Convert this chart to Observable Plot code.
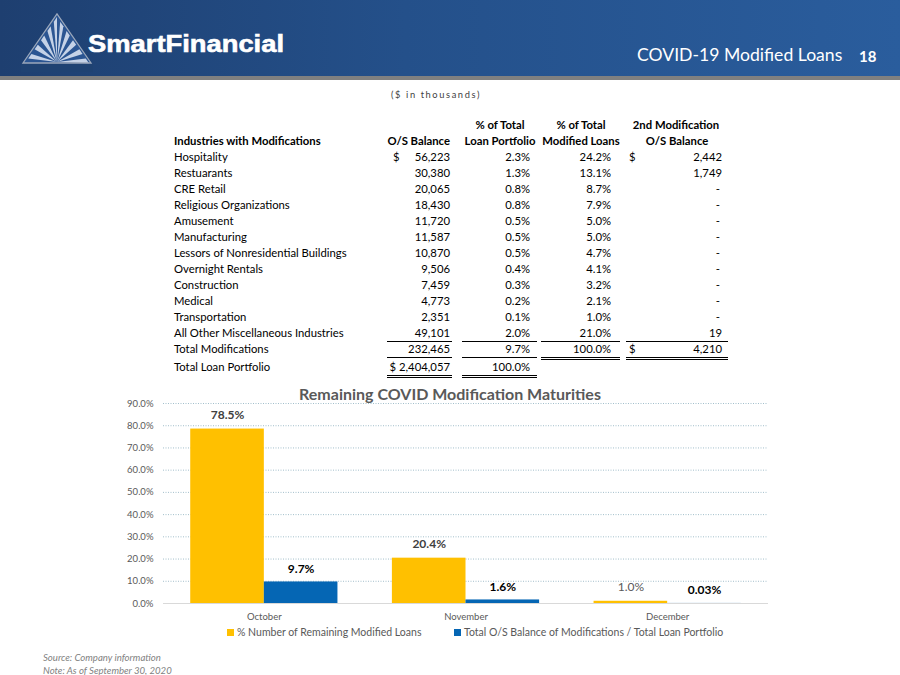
<!DOCTYPE html>
<html><head><meta charset="utf-8">
<script src="https://cdn.jsdelivr.net/npm/d3@7"></script>
<script src="https://cdn.jsdelivr.net/npm/@observablehq/plot@0.6"></script>
<style>
body{margin:0;width:900px;height:675px;position:relative;overflow:hidden;background:#fff;font-family:Lato,"Open Sans",sans-serif;}
.a{position:absolute;white-space:nowrap;line-height:14px;height:14px;color:#000;}
.b{font-weight:bold;}
.ln{position:absolute;height:0;border-top:1px solid #000;}
#header{position:absolute;left:0;top:0;width:900px;height:76px;background:linear-gradient(90deg,#1e3f70 0%,#24508a 45%,#2a5d9d 100%);}
#hbar{position:absolute;left:0;top:76px;width:900px;height:4px;background:#808080;}
#chart{position:absolute;left:0;top:395px;}
#ctitle{position:absolute;left:0;width:900px;top:385px;text-align:center;font-weight:bold;font-size:16px;color:#595959;z-index:2;line-height:18px;}
.leg{position:absolute;top:625px;font-size:10.5px;color:#595959;line-height:14px;white-space:nowrap;}
.sw{display:inline-block;width:7px;height:7px;margin-right:3px;vertical-align:0px;}
.foot{position:absolute;left:43px;font-size:9.6px;font-style:italic;color:#7f7f7f;line-height:12px;white-space:nowrap;}
</style></head><body>
<div id="header">
<svg id="logo" width="300" height="76" style="position:absolute;left:0;top:0"></svg>
<div style="position:absolute;left:637px;top:44px;font-size:17.6px;color:#fff;line-height:22px;white-space:nowrap;">COVID-19 Modified Loans</div>
<div style="position:absolute;left:859px;top:45px;font-size:15px;font-weight:bold;color:#fff;line-height:22px;">18</div>
</div>
<div id="hbar"></div>
<div id="table"></div>
<div id="ctitle">Remaining COVID Modification Maturities</div>
<div id="chart"></div>
<div id="legend"></div>
<div class="foot" style="top:652px">Source: Company information</div>
<div class="foot" style="top:665px">Note: As of September 30, 2020</div>
<script>
// ---------- table data ----------
const industries = ["Hospitality","Restuarants","CRE Retail","Religious Organizations","Amusement","Manufacturing","Lessors of Nonresidential Buildings","Overnight Rentals","Construction","Medical","Transportation","All Other Miscellaneous Industries"];
const osBalance = [56223,30380,20065,18430,11720,11587,10870,9506,7459,4773,2351,49101];
const pctPortfolio = [2.3,1.3,0.8,0.8,0.5,0.5,0.5,0.4,0.3,0.2,0.1,2.0];
const pctModified = [24.2,13.1,8.7,7.9,5.0,5.0,4.7,4.1,3.2,2.1,1.0,21.0];
const secondMod = [2442,1749,null,null,null,null,null,null,null,null,null,19];
const totalMods = {label:"Total Modifications", bal:232465, pctP:9.7, pctM:100.0, second:4210};
const totalPortfolio = {label:"Total Loan Portfolio", bal:2404057, pctP:100.0};

// ---------- chart data ----------
const months = ["October","November","December"];
const seriesNames = ["% Number of Remaining Modified Loans","Total O/S Balance of Modifications / Total Loan Portfolio"];
const pctRemaining = [78.5,20.4,1.0];
const balanceRatio = [9.7,1.6,0.03];
const pctLabels = ["78.5%","20.4%","1.0%"];
const balLabels = ["9.7%","1.6%","0.03%"];
const yTicks = [0,10,20,30,40,50,60,70,80,90];

// ---------- logo ----------
(function(){
  const s = d3.select("#logo");
  const ax=57, ay=14, lx=23, rx=91, by=63;
  s.append("polygon").attr("points",`${lx},${by} ${ax},${ay} ${rx},${by}`).attr("fill","#2b5592");
  const cx=57, cy=66;
  const pts=[];
  for(let i=0;i<=20;i++){const t=i/20;
    if(t<=0.5){const u=t/0.5; pts.push([lx+(ax-lx)*u, by+(ay-by)*u]);}
    else {const u=(t-0.5)/0.5; pts.push([ax+(rx-ax)*u, ay+(by-ay)*u]);}
  }
  for(let i=1;i<20;i+=2){
    const p1=pts[i], p2=pts[i+1];
    s.append("polygon").attr("points",`${cx},${cy-4} ${p1[0]+(cx-p1[0])*0.06},${p1[1]+(cy-p1[1])*0.06} ${p2[0]+(cx-p2[0])*0.06},${p2[1]+(cy-p2[1])*0.06}`)
     .attr("fill","#d3ddef").attr("opacity",0.92);
  }
  s.append("polygon").attr("points",`${lx},${by} ${ax},${ay} ${rx},${by}`).attr("fill","none").attr("stroke","#9aa7bb").attr("stroke-width",1.3);
  s.append("rect").attr("x",lx-2).attr("y",by+1).attr("width",rx-lx+4).attr("height",8).attr("fill","#1f4272");
  s.append("text").attr("x",88).attr("y",52).attr("fill","#fff").attr("font-family","Liberation Sans, Arial, sans-serif").attr("font-weight","bold").attr("font-size",24)
   .attr("stroke","#fff").attr("stroke-width",0.6)
   .attr("textLength",196).attr("lengthAdjust","spacingAndGlyphs").text("SmartFinancial");
})();

// ---------- table ----------
(function(){
  const T = document.getElementById("table");
  const fs = "11.3px";
  function cell(text,x,y,align,bold,extra){
    const d=document.createElement("div");
    d.className="a"+(bold?" b":"");
    d.style.fontSize=fs;
    d.style.top=(y-7)+"px";
    if(align==="left") d.style.left=x+"px";
    else if(align==="right") d.style.right=(900-x)+"px";
    else {d.style.left=(x-100)+"px"; d.style.width="200px"; d.style.textAlign="center";}
    if(extra) Object.assign(d.style,extra);
    d.textContent=text; T.appendChild(d);
  }
  function line(x1,x2,y){const d=document.createElement("div");d.className="ln";d.style.left=x1+"px";d.style.width=(x2-x1)+"px";d.style.top=y+"px";T.appendChild(d);}
  const fmt=d3.format(","), pf=d=>d.toFixed(1)+"%";
  cell("($ in thousands)",436,95,"center",false,{fontSize:"9.3px",letterSpacing:"1.6px",color:"#404040",fontWeight:"normal"});
  cell("% of Total",500,125,"center",true);
  cell("% of Total",581,125,"center",true);
  cell("2nd Modification",676,125,"center",true);
  cell("Industries with Modifications",174,141,"left",true);
  cell("O/S Balance",450,141,"right",true);
  cell("Loan Portfolio",500,141,"center",true);
  cell("Modified Loans",581,141,"center",true);
  cell("O/S Balance",677,141,"center",true);
  industries.forEach((name,i)=>{
    const y=157+16*i;
    cell(name,174,y,"left");
    if(i===0) cell("$",393,y,"left");
    cell(fmt(osBalance[i]),450,y,"right");
    cell(pf(pctPortfolio[i]),530,y,"right");
    cell(pf(pctModified[i]),611,y,"right");
    if(i===0) cell("$",629,y,"left");
    cell(secondMod[i]==null?"-":fmt(secondMod[i]),secondMod[i]==null?720:722,y,"right");
  });
  let y=157+16*industries.length;
  line(387,452,y-8);line(462,537,y-8);line(541,620,y-8);line(626,728,y-8);
  cell(totalMods.label,174,y,"left");
  cell(fmt(totalMods.bal),450,y,"right");
  cell(pf(totalMods.pctP),530,y,"right");
  cell(pf(totalMods.pctM),611,y,"right");
  cell("$",629,y,"left");
  cell(fmt(totalMods.second),722,y,"right");
  line(387,452,y+8);line(462,537,y+8);
  line(541,620,y+8);line(541,620,y+10);line(626,728,y+8);line(626,728,y+10);
  y+=18;
  cell(totalPortfolio.label,174,y,"left");
  cell("$ "+fmt(totalPortfolio.bal),450,y,"right");
  cell(pf(totalPortfolio.pctP),530,y,"right");
  line(387,452,y+8);line(387,452,y+10);line(462,537,y+8);line(462,537,y+10);
})();

// ---------- chart ----------
const data = months.map((m,i)=>({month:m, pct:pctRemaining[i], bal:balanceRatio[i], pctLabel:pctLabels[i], balLabel:balLabels[i]}));
const W=900, ML=163, MR=132, PI=0.27, PO=0.135;
const step=(W-ML-MR)/(months.length-PI+2*PO);
const half=step*(1-PI)/2;
const colors=["#FFC000","#0566B4"];
const chart = Plot.plot({
  width:W, height:230, marginLeft:ML, marginRight:MR, marginTop:8, marginBottom:22,
  style:{background:"transparent", fontFamily:"Lato, sans-serif", fontSize:"9.5px", color:"#595959", overflow:"visible"},
  x:{domain:months, paddingInner:PI, paddingOuter:PO, round:false, label:null, tickSize:0, tickPadding:10},
  y:{domain:[0,90], ticks:yTicks, tickFormat:d=>d.toFixed(1)+"%", tickSize:0, tickPadding:10, label:null},
  marks:[
    Plot.ruleY(yTicks.filter(d=>d>0), {stroke:"#a3bfcb", strokeDasharray:"1,1.5", strokeWidth:1}),
    Plot.ruleY([0], {stroke:"#d9d9d9", strokeWidth:1.2}),
    Plot.barY(data, {x:"month", y:"pct", fill:colors[0], insetRight:half}),
    Plot.barY(data, {x:"month", y:"bal", fill:colors[1], insetLeft:half}),
    Plot.text(data.filter(d=>d.month!=="December"), {x:"month", y:"pct", text:"pctLabel", dx:-half/2, dy:-14, fill:"#404040", fontWeight:"bold", fontSize:12}),
    Plot.text(data.filter(d=>d.month==="December"), {x:"month", y:"pct", text:"pctLabel", dx:-half/2, dy:-14, fill:"#595959", fontSize:12}),
    Plot.text(data, {x:"month", y:"bal", text:"balLabel", dx:half/2, dy:-13, fill:"#000", fontWeight:"bold", fontSize:12})
  ]
});
document.getElementById("chart").appendChild(chart);

// ---------- legend ----------
const L=document.getElementById("legend");
const legX=[227,454];
seriesNames.forEach((n,i)=>{
  const d=document.createElement("div"); d.className="leg"; d.style.left=legX[i]+"px";
  d.innerHTML=`<span class="sw" style="background:${colors[i]}"></span>`; d.appendChild(document.createTextNode(n)); L.appendChild(d);
});
</script>
</body></html>
